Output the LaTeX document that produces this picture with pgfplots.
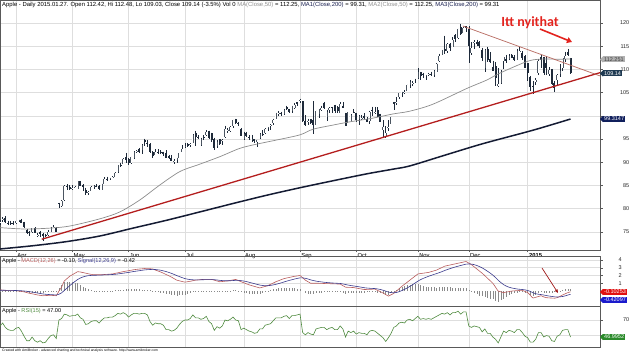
\documentclass[border=0pt]{standalone}
\usepackage{pgfplots}
\pgfplotsset{compat=1.18}
\usepackage{pgfplotstable}
\usepackage{fontspec}
\setmainfont{Liberation Sans}
\newfontfamily\annotfont{Carlito}
\usetikzlibrary{arrows.meta,calc}

\definecolor{candle}{HTML}{1E2A3A}
\definecolor{gridc}{HTML}{DEDEDE}
\definecolor{ma50}{HTML}{8C8C8C}
\definecolor{ma200}{HTML}{141B33}
\definecolor{trend}{HTML}{B41E1E}
\definecolor{res}{HTML}{B4645A}
\definecolor{annot}{HTML}{E3231E}
\definecolor{macdc}{HTML}{B85C5C}
\definecolor{sigc}{HTML}{3A3A8C}
\definecolor{rsic}{HTML}{4E8A3E}
\definecolor{histc}{HTML}{8A8A8A}
\definecolor{navybox}{HTML}{101F5C}
\definecolor{tealbox}{HTML}{1F3A52}
\definecolor{greybox}{HTML}{B0B0B0}
\definecolor{redbox}{HTML}{E01010}
\definecolor{bluebox}{HTML}{1A1ACC}
\definecolor{greenbox}{HTML}{2A8A2A}
\definecolor{darkred}{HTML}{A01818}
\definecolor{ma50t}{HTML}{909090}
\definecolor{ma200t}{HTML}{1A2050}

\pgfplotstableread{
i o h l c m s r
-6 76.9 77.6 76.4 77.03 0.15 0.11 62
-5 77.5 78.1 77.2 77.86 0.12 0.11 66
-4 78.0 78.3 77.0 77.11 0.08 0.10 60
-3 77.0 77.4 76.4 76.78 0.05 0.09 57
-2 76.9 77.4 76.5 76.69 0.05 0.08 56
-1 76.9 77.3 76.5 76.68 0.05 0.08 56
0 76.8 77.4 76.7 77.38 0.05 0.07 59
1 77.5 77.6 77.2 77.51 0.00 0.06 60
2 77.6 77.8 76.9 76.97 -0.05 0.04 55
3 77.1 77.2 75.8 75.97 -0.10 0.01 48
4 75.4 75.6 74.6 74.78 -0.20 -0.03 42
5 75.0 75.2 74.2 74.78 -0.28 -0.08 42
6 74.9 75.8 74.7 75.76 -0.35 -0.13 47
7 75.8 76.0 74.7 74.78 -0.42 -0.19 42
8 74.1 74.8 73.9 74.23 -0.50 -0.25 40
9 75.0 75.2 73.9 74.53 -0.55 -0.31 42
10 74.5 74.8 73.1 73.99 -0.60 -0.37 39
11 74.3 74.6 73.9 74.14 -0.58 -0.41 40
12 74.3 75.4 74.2 74.99 -0.56 -0.44 45
13 75.0 76.0 75.0 75.88 -0.55 -0.46 49
14 75.9 76.4 75.8 75.96 -0.57 -0.48 50
15 75.9 76.0 74.9 74.96 -0.60 -0.51 45
16 81.2 81.3 80.1 81.11 0.00 -0.41 70
17 80.6 81.9 80.4 81.71 0.50 -0.23 72
18 81.8 85.0 81.6 84.87 1.30 0.08 78
19 84.8 85.2 84.1 84.62 1.60 0.38 77
20 84.7 85.0 84.0 84.30 1.90 0.69 75
21 84.3 85.0 84.0 84.50 2.10 0.97 76
22 84.6 84.9 84.4 84.65 2.30 1.24 76
23 84.3 86.0 84.2 85.85 2.50 1.49 78
24 85.9 86.0 84.9 84.92 2.45 1.68 73
25 85.0 85.2 83.9 84.62 2.38 1.82 71
26 84.0 84.5 83.0 83.28 2.30 1.92 64
27 83.5 83.8 82.9 83.65 2.22 1.98 65
28 83.9 84.8 83.9 84.69 2.15 2.01 68
29 84.6 85.0 84.3 84.82 2.10 2.03 69
30 84.9 85.3 84.7 84.84 2.10 2.04 69
31 84.9 85.0 84.0 84.12 2.10 2.05 66
32 84.1 85.4 84.0 85.36 2.10 2.06 70
33 85.4 86.8 85.3 86.37 2.13 2.08 73
34 86.4 86.9 86.0 86.39 2.15 2.09 73
35 86.3 86.7 86.2 86.62 2.18 2.11 74
36 86.7 87.0 86.5 86.75 2.20 2.13 74
37 86.8 87.8 86.8 87.73 2.28 2.16 76
38 87.9 89.4 87.7 89.38 2.35 2.20 79
39 89.4 89.9 89.0 89.14 2.43 2.25 78
40 89.7 90.9 89.6 90.77 2.50 2.30 80
41 91.1 92.0 89.8 90.43 2.56 2.35 78
42 90.6 90.8 89.4 89.81 2.62 2.40 74
43 89.8 91.2 89.6 91.08 2.68 2.46 77
44 91.0 92.4 90.7 92.12 2.75 2.52 79
45 92.3 92.6 91.9 92.48 2.79 2.57 79
46 92.9 93.1 92.0 92.22 2.83 2.62 78
47 92.7 93.9 91.8 93.70 2.86 2.67 79
48 94.7 95.1 93.6 94.25 2.90 2.72 79
49 94.1 94.8 93.3 93.86 2.88 2.75 77
50 94.0 94.1 91.9 92.29 2.87 2.77 68
51 92.2 92.4 90.9 91.28 2.85 2.79 63
52 91.5 92.8 91.5 92.20 2.70 2.77 66
53 92.3 92.8 91.8 92.08 2.58 2.73 65
54 92.3 92.6 91.8 92.18 2.45 2.68 65
55 92.3 92.3 91.3 91.86 2.30 2.60 63
56 91.9 92.6 90.9 90.91 2.13 2.51 57
57 91.3 91.6 90.6 90.83 1.97 2.40 57
58 90.8 91.6 90.2 90.28 1.80 2.28 55
59 90.2 90.7 89.7 90.36 1.60 2.14 56
60 90.4 91.0 89.8 90.90 1.40 1.99 59
61 90.8 92.0 90.8 91.98 1.32 1.86 64
62 92.1 93.7 92.1 92.93 1.23 1.73 68
63 93.5 94.1 93.1 93.52 1.15 1.61 70
64 93.9 94.1 93.2 93.48 1.20 1.53 70
65 93.7 94.1 93.2 94.03 1.26 1.48 72
66 94.1 96.0 94.1 95.97 1.33 1.45 77
67 96.3 96.8 93.5 95.35 1.40 1.44 73
68 95.4 95.9 94.9 95.39 1.43 1.44 73
69 93.8 95.3 93.6 95.04 1.47 1.45 71
70 95.4 95.9 94.8 95.22 1.50 1.46 72
71 95.9 96.9 95.6 96.45 1.50 1.47 75
72 96.8 96.8 95.0 95.32 1.50 1.47 68
73 96.2 96.4 94.3 94.78 1.50 1.48 65
74 95.0 95.3 92.6 93.09 1.40 1.46 56
75 93.6 94.7 93.0 94.43 1.30 1.43 61
76 94.9 94.9 93.7 93.94 1.20 1.38 59
77 94.7 95.0 93.8 94.72 1.23 1.35 62
78 95.4 97.9 95.2 97.19 1.27 1.33 70
79 97.0 97.3 96.4 97.03 1.30 1.32 69
80 96.8 97.8 96.6 97.67 1.37 1.33 71
81 97.8 99.2 97.4 99.02 1.43 1.35 74
82 99.3 99.4 98.3 98.38 1.50 1.38 70
83 98.5 98.7 97.7 98.15 1.35 1.38 69
84 97.2 97.4 95.6 95.60 1.20 1.34 57
85 94.9 96.6 94.8 96.13 1.07 1.29 59
86 96.4 96.6 95.4 95.59 0.93 1.22 57
87 95.4 95.8 94.8 95.12 0.80 1.13 55
88 94.8 95.9 94.3 94.96 0.70 1.04 54
89 94.9 95.0 94.1 94.48 0.60 0.95 52
90 94.3 94.8 93.3 94.74 0.50 0.86 53
91 95.3 96.2 95.0 95.99 0.40 0.77 58
92 96.0 96.9 95.6 95.97 0.50 0.72 58
93 96.3 97.3 96.1 97.24 0.60 0.69 63
94 97.3 97.6 96.8 97.50 0.70 0.69 64
95 97.9 98.2 97.0 97.98 0.87 0.73 65
96 98.5 99.4 98.0 99.16 1.03 0.79 69
97 99.4 100.7 99.3 100.53 1.20 0.87 73
98 100.4 101.0 99.9 100.57 1.33 0.96 73
99 100.6 100.9 100.0 100.58 1.47 1.06 73
100 100.3 101.5 100.2 101.32 1.60 1.17 75
101 101.8 102.2 101.3 101.54 1.68 1.27 76
102 101.4 101.5 100.5 100.89 1.75 1.37 72
103 101.0 102.2 100.6 102.13 1.83 1.46 76
104 101.6 102.8 101.5 102.25 1.90 1.55 76
105 102.9 102.9 102.2 102.50 1.95 1.63 77
106 103.1 103.7 102.7 103.30 2.00 1.70 78
107 103.1 103.2 98.6 98.94 1.70 1.70 53
108 98.8 100.1 97.8 98.12 1.40 1.64 50
109 98.8 99.4 98.0 98.97 1.20 1.55 53
110 99.3 99.3 98.3 98.36 1.00 1.44 51
111 99.1 103.1 96.1 97.99 1.00 1.35 50
112 98.0 101.1 98.0 101.00 1.00 1.28 58
113 100.4 101.4 99.6 101.43 1.00 1.22 59
114 101.2 102.2 101.1 101.66 0.99 1.18 60
115 102.8 103.0 101.4 101.63 0.97 1.13 60
116 99.8 101.3 98.9 100.86 0.96 1.10 57
117 101.3 101.8 100.6 101.58 0.95 1.07 59
118 101.9 101.9 100.5 101.79 0.94 1.04 60
119 102.3 102.4 100.5 100.96 0.93 1.02 57
120 101.8 102.1 100.6 101.06 0.91 1.00 57
121 100.6 102.9 100.6 102.64 0.90 0.98 62
122 102.2 102.9 101.6 101.75 0.70 0.92 58
123 100.5 100.7 97.7 97.87 0.50 0.84 47
124 98.5 100.8 98.4 100.75 0.48 0.77 55
125 98.7 100.4 98.6 100.11 0.47 0.71 53
126 100.8 101.5 100.7 100.75 0.45 0.66 55
127 100.6 100.7 98.7 99.18 0.39 0.60 51
128 99.3 100.2 98.0 99.90 0.32 0.55 53
129 99.4 100.2 99.0 99.62 0.26 0.49 52
130 99.9 100.6 99.4 99.62 0.20 0.43 52
131 99.4 99.7 98.7 98.75 0.21 0.39 50
132 98.8 101.1 98.3 100.80 0.22 0.36 55
133 101.3 102.0 99.9 101.02 0.24 0.34 56
134 100.7 102.0 100.3 100.73 0.25 0.32 55
135 101.3 101.8 99.8 99.81 0.08 0.27 52
136 100.4 100.4 98.8 98.75 -0.08 0.20 49
137 97.0 99.0 95.2 97.54 -0.25 0.11 46
138 95.6 97.7 95.2 96.26 -0.45 0.00 41
139 97.5 99.0 96.8 97.67 -0.65 -0.13 46
140 98.3 99.8 98.2 99.76 -0.48 -0.20 52
141 103.0 103.0 101.3 102.47 -0.30 -0.22 60
142 102.8 104.1 102.3 102.99 0.00 -0.18 62
143 104.1 105.0 103.6 104.83 0.30 -0.08 66
144 105.2 105.2 104.1 105.22 0.60 0.06 67
145 104.9 105.5 104.7 105.11 0.87 0.22 66
146 105.4 106.7 105.3 106.74 1.13 0.40 70
147 106.7 107.7 105.9 107.34 1.40 0.60 71
148 106.9 107.4 106.4 106.98 1.67 0.81 69
149 108.0 108.0 107.1 108.00 1.93 1.04 72
150 108.2 110.3 108.0 109.40 2.20 1.27 75
151 109.4 109.5 107.7 108.60 2.25 1.47 71
152 109.1 109.3 108.1 108.86 2.30 1.63 72
153 108.6 108.8 107.8 108.70 2.35 1.77 71
154 108.8 109.3 108.6 109.01 2.40 1.90 72
155 109.0 109.5 108.5 108.83 2.50 2.02 71
156 108.7 109.8 108.4 109.70 2.60 2.14 73
157 109.4 111.4 109.4 111.25 2.70 2.25 75
158 111.8 113.4 111.6 112.82 2.87 2.37 77
159 113.2 114.2 113.0 114.18 3.03 2.50 79
160 114.3 117.3 113.3 113.99 3.20 2.64 78
161 113.9 115.7 113.5 115.47 3.28 2.77 80
162 115.4 115.7 113.9 114.67 3.35 2.89 77
163 114.9 116.9 114.8 116.31 3.43 3.00 80
164 117.5 117.6 116.0 116.47 3.50 3.10 80
165 116.8 118.8 116.6 118.63 3.58 3.20 82
166 119.1 119.8 117.5 117.60 3.65 3.29 78
167 117.9 119.1 117.8 119.00 3.73 3.38 81
168 119.3 119.4 118.1 118.93 3.80 3.46 81
169 118.8 119.3 111.3 115.07 3.60 3.49 62
170 113.5 115.8 113.1 114.63 3.40 3.47 60
171 115.8 116.3 114.5 115.93 3.12 3.40 62
172 115.8 116.4 115.0 115.49 2.85 3.29 61
173 116.0 116.1 114.6 115.00 2.57 3.15 60
174 114.1 114.7 111.8 112.40 2.30 2.98 54
175 110.2 114.3 109.4 114.12 1.98 2.78 58
176 114.4 114.9 111.6 111.95 1.65 2.55 52
177 112.3 113.8 111.3 111.62 1.33 2.31 52
178 110.5 111.9 109.7 109.73 1.00 2.05 47
179 110.7 111.6 106.4 108.23 0.50 1.74 44
180 106.4 110.2 106.3 106.75 0.00 1.39 39
181 107.1 109.8 106.8 109.41 -0.10 1.09 47
182 111.9 112.7 110.0 112.65 -0.20 0.83 55
183 112.3 113.2 111.3 111.78 -0.13 0.64 53
184 112.2 113.3 112.1 112.94 -0.07 0.50 56
185 113.2 113.3 112.5 112.54 0.00 0.40 55
186 112.6 113.0 111.8 112.01 0.03 0.33 53
187 112.1 114.5 112.1 113.99 0.05 0.27 57
188 113.8 114.8 113.7 113.91 0.08 0.23 57
189 113.6 113.9 112.1 112.52 0.10 0.20 53
190 112.8 113.1 110.2 110.38 -0.05 0.15 48
191 111.4 111.4 107.4 109.33 -0.20 0.08 46
192 108.3 108.6 105.4 106.25 -0.55 -0.05 40
193 106.5 107.4 104.6 106.26 -0.90 -0.22 40
194 107.2 108.2 106.7 107.75 -0.80 -0.34 44
195 109.2 112.2 108.7 111.89 -0.70 -0.41 53
196 112.7 113.2 110.2 112.01 -0.60 -0.45 53
197 112.6 112.6 108.8 109.25 -0.75 -0.51 47
198 111.4 112.8 108.9 110.22 -0.85 -0.58 49
199 109.0 110.5 108.5 109.80 -0.88 -0.64 48
200 110.0 110.1 106.7 106.82 -0.90 -0.69 42
201 107.0 107.6 105.2 105.99 -0.92 -0.74 41
202 107.8 109.0 106.5 108.72 -0.85 -0.76 48
203 109.0 111.1 108.3 109.55 -0.70 -0.75 50
204 110.3 112.5 109.7 112.40 -0.50 -0.70 56
205 112.3 113.8 111.5 112.98 -0.35 -0.62 57
206 113.7 114.4 112.8 113.10 -0.20 -0.51 57
207 112.4 112.5 109.0 109.14 -0.10 -0.42 47
}\data

\pgfplotsset{
  panel/.style={
    scale only axis, width=600pt, xmin=-6, xmax=218, anchor=south west,
    axis line style={draw=black!65, line width=0.5pt},
    grid=major, major grid style={draw=gridc, line width=0.5pt},
    xtick={0,21,42,63,85,106,127,150,169,191},
    tick align=outside, ytick pos=right, yticklabel pos=right,
    yticklabel style={font=\fontsize{5.5}{6}\selectfont, anchor=east, inner sep=0pt, text=black!85},
    /pgf/number format/assume math mode=true,
    tick style={draw=black!65, line width=0.4pt},
    major tick length=2.5pt,
  }
}

\newcommand\valbox[4]{%
  \node[fill=#2, text=#3, font=\fontsize{5.5}{6}\selectfont, inner xsep=1pt, inner ysep=0pt, minimum height=6pt, anchor=west] (vb) at (603pt,#1) {#4};
  \fill[#2] (vb.north west) -- (600pt,#1) -- (vb.south west) -- cycle;}

\begin{document}
\begin{tikzpicture}
\path[use as bounding box] (0pt,0pt) rectangle (630pt,353pt);

% ---------- main price panel ----------
\begin{axis}[panel, at={(0pt,103pt)}, height=250pt,
  ymin=71.08, ymax=124.96, ytick={75,80,...,120},
  yticklabels={75,80,85,90,95,{},105,110,115,120},
  yticklabel style={xshift=27pt},
  xtick pos=left,
  xticklabels={Apr,May,Jun,Jul,Aug,Sep,Oct,Nov,Dec,\textbf{2015}},
  xticklabel style={anchor=north west, font=\fontsize{5.8}{6}\selectfont, inner sep=0pt, xshift=1.2pt, yshift=-0.8pt},
]
% wicks
\addplot[draw=none, mark=none, error bars/.cd, y dir=minus, y explicit, error mark=none,
  error bar style={draw=candle, line width=0.5pt, solid}]
  table[x=i, y=h, y error minus expr=\thisrow{h}-\thisrow{l}] \data;
% down bodies
\addplot[draw=none, mark=none, restrict expr to domain={\thisrow{o}-\thisrow{c}}{0.0001:100},
  error bars/.cd, y dir=minus, y explicit, error mark=none,
  error bar style={draw=candle, line width=2pt, solid}]
  table[x=i, y=o, y error minus expr=\thisrow{o}-\thisrow{c}] \data;
% up bodies (hollow)
\addplot[draw=none, mark=none, restrict expr to domain={\thisrow{c}-\thisrow{o}}{0:100},
  error bars/.cd, y dir=minus, y explicit, error mark=none,
  error bar style={draw=candle!80, line width=2pt, solid}]
  table[x=i, y=c, y error minus expr=\thisrow{c}-\thisrow{o}] \data;
\addplot[draw=none, mark=none, restrict expr to domain={\thisrow{c}-\thisrow{o}}{0:100},
  error bars/.cd, y dir=minus, y explicit, error mark=none,
  error bar style={draw=white, line width=1pt, solid}]
  table[x=i, y=c, y error minus expr=\thisrow{c}-\thisrow{o}] \data;
% MA50
\addplot[ma50, line width=0.7pt, smooth, mark=none] coordinates {
(-6,75.9) (3.4,75.6) (12.7,75.8) (20.1,76.25) (31.3,77.8) (38.8,79.3) (46.3,81.9) (53.7,85.1)
(61.2,88.0) (68.7,89.6) (76.1,91.2) (83.6,93.0) (89.9,93.9) (97.4,94.8) (106,95.9) (110.8,97.1)
(118.3,98.0) (124.6,98.7) (133.2,99.5) (140.7,100.4) (147,101.0) (155.6,102.5) (168.3,105.9)
(175.7,107.7) (180.6,109.2) (190.7,111.7) (195.5,112.2) (203,112.2) (207,112.25)};
% MA200
\addplot[ma200, line width=1.5pt, smooth, mark=none] coordinates {
(-6,71.3) (6.3,72.0) (19,72.9) (31.3,74.1) (43.7,75.8) (56.3,77.5) (68.7,79.3) (81,81.1)
(93.7,82.9) (106,84.5) (118.3,86.0) (131,87.5) (140.7,88.5) (147,89.2) (160,91.5) (174.3,94.0)
(193,96.9) (207,99.31)};
% trend lines
\addplot[trend, line width=1.3pt, mark=none] coordinates {(9.6,73.4) (218,109.3)};
\addplot[res, line width=0.7pt, mark=none] coordinates {(166.8,119.35) (218,108.6)};
\end{axis}

% ---------- MACD panel ----------
\begin{axis}[panel, at={(0pt,47pt)}, height=50pt,
  ymin=-1.92, ymax=4.51, ytick={1,2,3,4},
  yticklabel style={xshift=19.5pt},
  xticklabels={}, xtick style={draw=none},
]
\addplot[histc, ycomb, line width=0.5pt, mark=none] table[x=i, y expr=\thisrow{m}-\thisrow{s}] \data;
\addplot[macdc, line width=0.6pt, smooth, mark=none] table[x=i, y=m] \data;
\addplot[sigc, line width=0.6pt, smooth, mark=none] table[x=i, y=s] \data;
\end{axis}

% ---------- RSI panel ----------
\begin{axis}[panel, at={(0pt,6pt)}, height=41pt,
  ymin=33.5, ymax=89, ytick={50,70}, yticklabels={{},70},
  yticklabel style={xshift=27pt},
  xticklabels={}, xtick style={draw=none},
]
\addplot[rsic, line width=0.6pt, mark=none] table[x=i, y=r] \data;
\end{axis}

% ---------- titles ----------
\node[anchor=base west, inner sep=0pt, font=\fontsize{5.9}{6}\selectfont] at (2pt,346.5pt)
 {Apple - Daily 2015.01.27. Open 112.42, Hi 112.48, Lo 109.03, Close 109.14 (-3.5\%) Vol 0 \textcolor{ma50t}{MA(Close,50)} = 112.25, \textcolor{ma200t}{MA1(Close,200)} = 99.31, \textcolor{ma50t}{MA2(Close,50)} = 112.25, \textcolor{ma200t}{MA3(Close,200)} = 99.31};
\node[anchor=base west, inner sep=0pt, font=\fontsize{5.6}{6}\selectfont] at (2pt,90pt)
 {Apple - \textcolor{macdc}{MACD(12,26)} = -0.10, \textcolor{sigc}{Signal(12,26,9)} = -0.42};
\node[anchor=base west, inner sep=0pt, font=\fontsize{5.6}{6}\selectfont] at (2pt,40.5pt)
 {Apple - \textcolor{rsic}{RSI(15)} = 47.00};
\node[anchor=base west, inner sep=0pt, font=\fontsize{3.4}{4}\selectfont] at (2pt,1.5pt)
 {Created with AmiBroker - advanced charting and technical analysis software. http://www.amibroker.com};

% ---------- annotations ----------
\node[anchor=base, inner sep=0pt, text=annot, font=\annotfont\bfseries\fontsize{14}{16}\selectfont] at (530pt,326pt) {Itt nyithat};
\draw[annot, line width=1.6pt, -{Triangle[length=5pt,width=6pt]}] (540pt,324pt) -- (572pt,311pt);
\draw[darkred, line width=0.7pt, -{Triangle[length=3.5pt,width=3pt]}] (542pt,85pt) -- (558pt,60pt);

% ---------- value boxes ----------
\valbox{293.5pt}{greybox}{black!75}{112.251}
\valbox{279.5pt}{tealbox}{white}{109.14}
\valbox{234pt}{navybox}{white}{99.3147}
\valbox{61pt}{redbox}{white}{-0.10253}
\valbox{53pt}{bluebox}{white}{-0.42097}
\valbox{16pt}{greenbox}{white}{46.9952}
\end{tikzpicture}
\end{document}
